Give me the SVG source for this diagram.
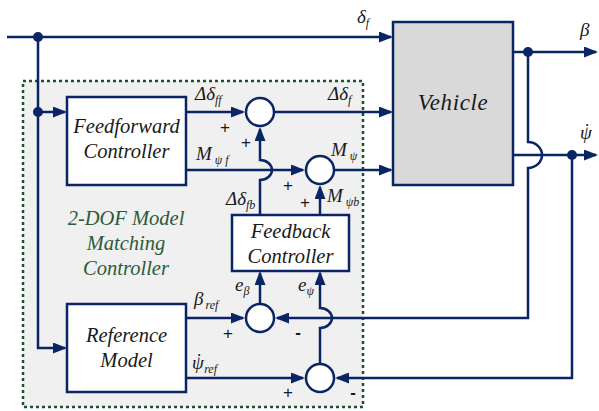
<svg xmlns="http://www.w3.org/2000/svg" width="599" height="411" viewBox="0 0 599 411">
  <style>
    .arrow { fill: none; stroke: #0a2466; stroke-width: 2.5; marker-end: url(#head); }
    .box { fill: #ffffff; stroke: #0a2466; stroke-width: 2.5; }
    .sum { fill: #ffffff; stroke: #0a2466; stroke-width: 2.5; }
    .dot { fill: #0a2466; }
    .blk { font-size: 20.5px; fill: #1a1a1a; text-anchor: middle; }
    .veh { font-size: 23px; letter-spacing: 0.6px; fill: #1a1a1a; text-anchor: middle; }
    .grp { font-size: 20.5px; fill: #2c5a3a; text-anchor: middle; }
    .sym { font-size: 19px; fill: #1a1a1a; }
    .sub { font-size: 12px; }
    .sign { font-size: 17px; fill: #1a1a1a; text-anchor: middle; }
    .minus { font-weight: bold; }
  </style>
  <defs>
    <marker id="head" markerUnits="userSpaceOnUse" markerWidth="14" markerHeight="11" refX="12" refY="5.5" orient="auto">
      <path d="M0,0 L14,5.5 L0,11 Z" fill="#0a2466"/>
    </marker>
  </defs>

  <!-- controller boundary -->
  <g id="controller-boundary">
    <rect x="23" y="81" width="340" height="326" fill="#f0f0f0" stroke="#1f5130" stroke-width="2.5" stroke-dasharray="3,3"/>
    <g font-family="Liberation Serif, Times New Roman, serif" font-style="italic">
      <text class="grp" x="126" y="225">2-DOF Model</text>
      <text class="grp" x="126" y="250">Matching</text>
      <text class="grp" x="126" y="275">Controller</text>
    </g>
  </g>

  <!-- connectors -->
  <g id="connectors">
    <path class="arrow" d="M7,37 H391"/>
    <path class="arrow" d="M38,37 V348 H65"/>
    <path class="arrow" d="M38,112 H65"/>
    <path class="arrow" d="M186,112 H243"/>
    <path class="arrow" d="M275,112 H391"/>
    <path class="arrow" d="M186,170 H303"/>
    <path class="arrow" d="M335,170 H391"/>
    <path class="arrow" d="M260,215 V180 A12,10 0 0 0 260,160 V129"/>
    <path class="arrow" d="M320,215 V187"/>
    <path class="arrow" d="M513,52 H596"/>
    <path class="arrow" d="M528,52 V142 A14,13 0 0 1 528,168 V318 H277"/>
    <path class="arrow" d="M513,155 H596"/>
    <path class="arrow" d="M572,155 V378 H337"/>
    <path class="arrow" d="M186,318 H243"/>
    <path class="arrow" d="M186,378 H303"/>
    <path class="arrow" d="M260,303 V273"/>
    <path class="arrow" d="M320,363 V328 A12,10 0 0 0 320,308 V273"/>
    <circle class="dot" cx="38" cy="37" r="5"/>
    <circle class="dot" cx="38" cy="112" r="5"/>
    <circle class="dot" cx="528" cy="52" r="5"/>
    <circle class="dot" cx="572" cy="155" r="5"/>
  </g>

  <g font-family="Liberation Serif, Times New Roman, serif" font-style="italic">
    <g id="feedforward-controller">
      <rect class="box" x="67" y="97" width="119" height="88"/>
      <text class="blk" x="126.5" y="133">Feedforward</text>
      <text class="blk" x="126.5" y="158">Controller</text>
    </g>

    <g id="reference-model">
      <rect class="box" x="67" y="304" width="119" height="88"/>
      <text class="blk" x="126.5" y="342">Reference</text>
      <text class="blk" x="126.5" y="367">Model</text>
    </g>

    <g id="feedback-controller">
      <rect class="box" x="232" y="215" width="117" height="56"/>
      <text class="blk" x="290.5" y="238">Feedback</text>
      <text class="blk" x="290.5" y="263">Controller</text>
    </g>

    <g id="vehicle">
      <rect x="393" y="22" width="120" height="163" fill="#d9d9d9" stroke="#0a2466" stroke-width="2.5"/>
      <text class="veh" x="453" y="110">Vehicle</text>
    </g>
  </g>

  <g id="sum-steer">
    <circle class="sum" cx="260" cy="112" r="14"/>
  </g>
  <g id="sum-yaw-moment">
    <circle class="sum" cx="320" cy="170" r="14"/>
  </g>
  <g id="sum-beta-error">
    <circle class="sum" cx="260" cy="318" r="14"/>
  </g>
  <g id="sum-yaw-rate-error">
    <circle class="sum" cx="320" cy="378" r="14"/>
  </g>

  <!-- signal labels -->
  <g id="labels" font-family="Liberation Serif, Times New Roman, serif" font-style="italic">
    <text class="sym" x="357" y="23">δ<tspan class="sub" dy="4">f</tspan></text>
    <text class="sym" x="195" y="100">Δδ<tspan class="sub" dy="4">ff</tspan></text>
    <text class="sym" x="328" y="100">Δδ<tspan class="sub" dy="4">f</tspan></text>
    <text class="sym" x="196" y="160">M<tspan class="sub" dx="3" dy="4">ψ f</tspan></text>
    <text class="sym" x="331" y="156">M<tspan class="sub" dx="3" dy="4">ψ</tspan></text>
    <text class="sym" x="327" y="202">M<tspan class="sub" dx="3" dy="4">ψb</tspan></text>
    <text class="sym" x="226" y="205">Δδ<tspan class="sub" dy="4">fb</tspan></text>
    <text class="sym" x="235" y="291">e<tspan class="sub" dy="4">β</tspan></text>
    <text class="sym" x="298" y="291">e<tspan class="sub" dy="4">ψ</tspan></text>
    <text class="sym" x="194" y="305">β<tspan class="sub" dx="2" dy="4">ref</tspan></text>
    <text class="sym" x="192" y="369">ψ<tspan dx="-9" dy="-2">˙</tspan><tspan class="sub" dx="3" dy="6">ref</tspan></text>
    <text class="sym" x="580" y="139">ψ<tspan dx="-9" dy="-2">˙</tspan></text>
    <text class="sym" x="580" y="36">β</text>
  </g>

  <g id="signs" font-family="Liberation Sans, Arial, sans-serif">
    <text class="sign" x="225" y="133">+</text>
    <text class="sign" x="246" y="148">+</text>
    <text class="sign" x="288" y="191">+</text>
    <text class="sign" x="305" y="208">+</text>
    <text class="sign" x="228" y="339">+</text>
    <text class="sign minus" x="298" y="338">-</text>
    <text class="sign" x="288" y="398">+</text>
    <text class="sign minus" x="353" y="398">-</text>
  </g>
</svg>
